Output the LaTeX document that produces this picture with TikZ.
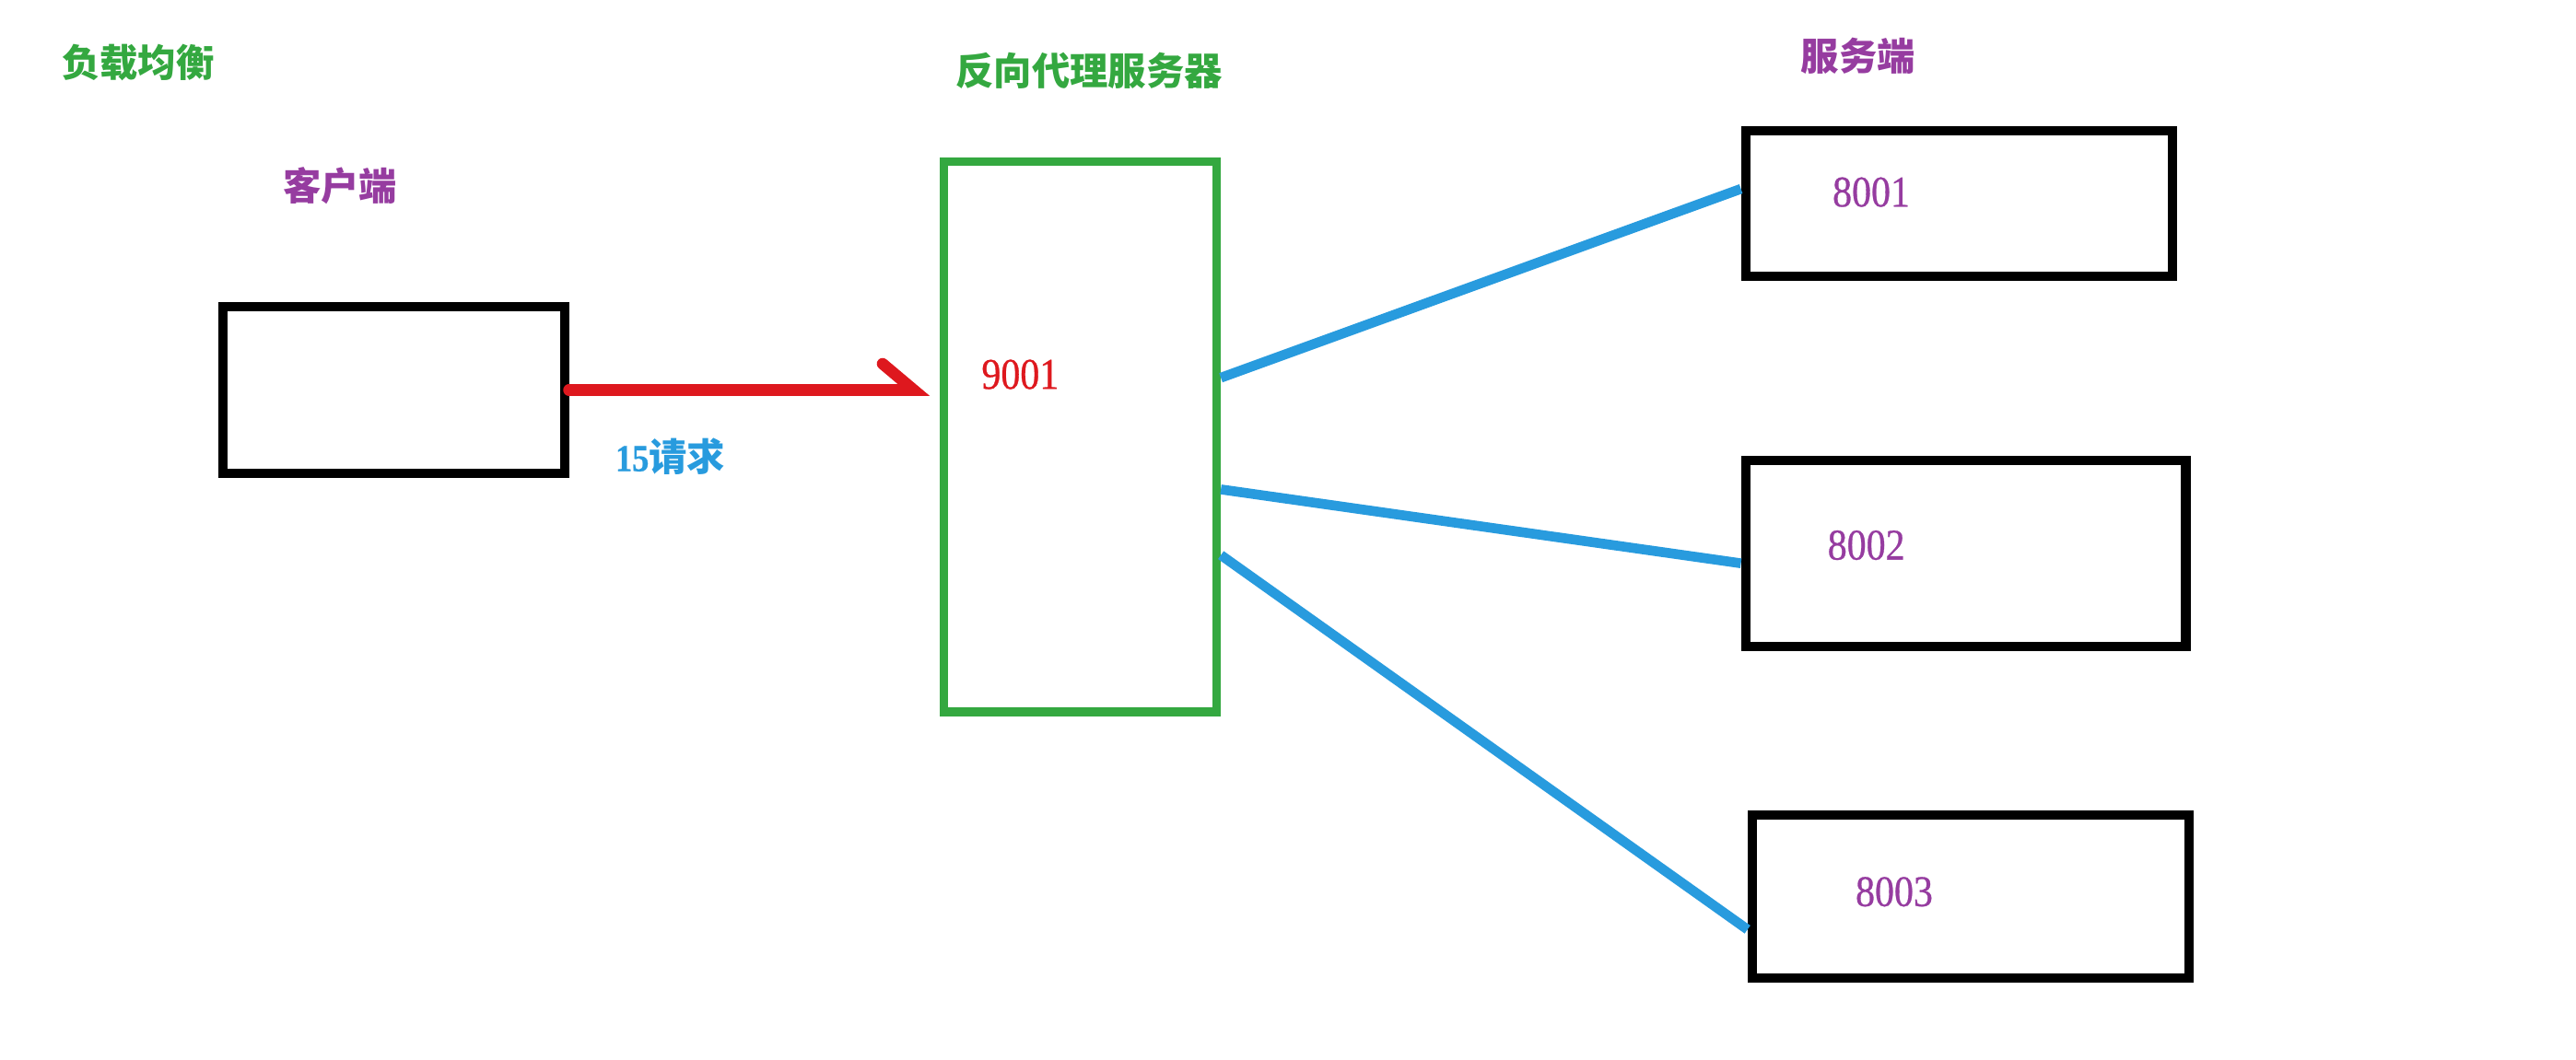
\documentclass[tikz,border=0pt]{standalone}
\usepackage{fontspec}
\newfontfamily\cjk{Noto Sans CJK SC}
\newfontfamily\num{Liberation Serif}[FakeStretch=0.88, FakeBold=0.6]
\usetikzlibrary{arrows.meta}
\definecolor{lbgreen}{RGB}{52,168,64}
\definecolor{lbpurple}{RGB}{150,60,160}
\definecolor{lbblue}{RGB}{40,155,222}
\definecolor{lbred}{RGB}{222,24,30}
\tikzset{
  box/.style={draw=black, line width=1.6pt, inner sep=0pt},
  proxybox/.style={draw=lbgreen, line width=1.5pt, inner sep=0pt},
  title/.style={font=\cjk\bfseries\fontsize{6.6}{8}\selectfont},
  port/.style={font=\num\fontsize{7.6}{8}\selectfont, text=lbpurple},
  link/.style={draw=lbblue, line width=1.7pt},
  req/.style={draw=lbred, line width=2pt, line cap=round,
    -{Straight Barb[left, length=1.9mm, width=3.2mm, line cap=round]}},
}
\begin{document}
\begin{tikzpicture}[x=0.1mm, y=-0.1mm]
  \useasboundingbox[fill=white] (0,0) rectangle (1568,645);
  % titles
  \node[title, text=lbgreen] (lb) at (84,38) {负载均衡};
  \node[title, text=lbpurple] (clienttitle) at (207,113) {客户端};
  \node[title, text=lbgreen] (proxytitle) at (663,43) {反向代理服务器};
  \node[title, text=lbpurple] (servertitle) at (1131,34) {服务端};
  % boxes
  \node[box, minimum width=20.8mm, minimum height=10.2mm] (client) at (239.5,237.5) {};
  \node[proxybox, minimum width=16.6mm, minimum height=33.5mm] (proxy) at (657.5,266) {};
  \node[box, minimum width=26.0mm, minimum height=8.9mm] (s1) at (1192.5,124) {};
  \node[box, minimum width=26.8mm, minimum height=11.3mm] (s2) at (1196.5,337) {};
  \node[box, minimum width=26.6mm, minimum height=9.9mm] (s3) at (1199.5,546) {};
  % ports
  \node[port, text=lbred] (p9001) at (621,228) {9001};
  \node[port] (p8001) at (1139,117) {8001};
  \node[port] (p8002) at (1136,332) {8002};
  \node[port] (p8003) at (1153,543) {8003};
  \node[font=\cjk\bfseries\fontsize{6.6}{8}\selectfont, text=lbblue] (reqlabel) at (408,278) {{\num 15}请求};
  % request
  \draw[req, shorten >=0.6mm] (client.east) to (client.east -| proxy.west);
  % balancing
  \begin{scope}[link]
    \draw ([yshift=3.6mm]proxy.east) to ([yshift=0.9mm]s1.west);
    \draw ([yshift=-3.2mm]proxy.east) to ([yshift=-0.6mm]s2.west);
    \draw ([yshift=-7.2mm]proxy.east) to ([yshift=-2.0mm]s3.west);
  \end{scope}
\end{tikzpicture}
\end{document}
